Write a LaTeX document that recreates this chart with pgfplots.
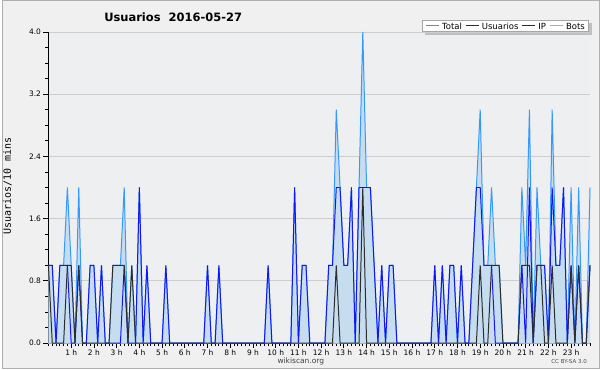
\documentclass[border=0pt]{standalone}
\usepackage{pgfplots}
\pgfplotsset{compat=1.18}
\usepackage{pgfplotstable}
\usepackage{fontspec}
\setmainfont{DejaVu Sans}
\newfontfamily\monofont{DejaVu Sans Mono}
\definecolor{bgcol}{RGB}{240,240,240}
\definecolor{plotbg}{RGB}{238,239,241}
\definecolor{bordercol}{RGB}{175,175,175}
\definecolor{gridcol}{RGB}{205,205,205}
\definecolor{totline}{RGB}{51,153,255}
\definecolor{totfill}{RGB}{198,221,240}
\definecolor{usucol}{RGB}{20,20,250}
\definecolor{ipcol}{RGB}{45,45,45}
\definecolor{botcol}{RGB}{255,165,0}
\pgfdeclarelayer{bgzero}
\pgfdeclarelayer{shadow}
\pgfsetlayers{bgzero,shadow,main}
\newcommand{\legline}[1]{{\color{#1}\rule[0.3em]{13pt}{1.3pt}}\hspace{3pt}}

\pgfplotstableread{
i T U P B
0 1 1 1 0
1 1 1 0 0
2 0 0 0 0
3 1 1 0 0
4 1 1 0 0
5 2 1 1 0
6 1 0 1 0
7 0 0 0 0
8 2 1 1 0
9 0 0 0 0
10 0 0 0 0
11 1 1 0 0
12 1 1 0 0
13 0 0 0 0
14 1 1 0 0
15 0 0 0 0
16 0 0 0 0
17 1 0 1 0
18 1 0 1 0
19 1 0 1 0
20 2 1 1 0
21 0 0 0 0
22 1 0 1 0
23 0 0 0 0
24 2 2 0 0
25 0 0 0 0
26 1 1 0 0
27 0 0 0 0
28 0 0 0 0
29 0 0 0 0
30 0 0 0 0
31 1 1 0 0
32 0 0 0 0
33 0 0 0 0
34 0 0 0 0
35 0 0 0 0
36 0 0 0 0
37 0 0 0 0
38 0 0 0 0
39 0 0 0 0
40 0 0 0 0
41 0 0 0 0
42 1 1 0 0
43 0 0 0 0
44 0 0 0 0
45 1 1 0 0
46 0 0 0 0
47 0 0 0 0
48 0 0 0 0
49 0 0 0 0
50 0 0 0 0
51 0 0 0 0
52 0 0 0 0
53 0 0 0 0
54 0 0 0 0
55 0 0 0 0
56 0 0 0 0
57 0 0 0 0
58 1 1 0 0
59 0 0 0 0
60 0 0 0 0
61 0 0 0 0
62 0 0 0 0
63 0 0 0 0
64 0 0 0 0
65 2 2 0 0
66 0 0 0 0
67 1 1 0 0
68 1 1 0 0
69 0 0 0 0
70 0 0 0 0
71 0 0 0 0
72 0 0 0 0
73 0 0 0 0
74 1 1 0 0
75 1 1 0 0
76 3 2 1 0
77 2 2 0 0
78 1 1 0 0
79 1 1 0 0
80 2 2 0 0
81 0 0 0 0
82 2 2 0 0
83 4 2 2 0
84 2 2 0 0
85 2 2 0 0
86 1 1 0 0
87 0 0 0 0
88 1 1 0 0
89 0 0 0 0
90 1 1 0 0
91 1 1 0 0
92 0 0 0 0
93 0 0 0 0
94 0 0 0 0
95 0 0 0 0
96 0 0 0 0
97 0 0 0 0
98 0 0 0 0
99 0 0 0 0
100 0 0 0 0
101 0 0 0 0
102 1 1 0 0
103 0 0 0 0
104 1 1 0 0
105 0 0 0 0
106 1 1 0 0
107 1 1 0 0
108 0 0 0 0
109 1 1 0 0
110 0 0 0 0
111 0 0 0 0
112 1 1 0 0
113 2 2 0 0
114 3 2 1 0
115 1 1 0 0
116 1 1 0 0
117 2 1 1 0
118 1 0 1 0
119 1 0 1 0
120 0 0 0 0
121 0 0 0 0
122 0 0 0 0
123 0 0 0 0
124 0 0 0 0
125 2 1 1 0
126 1 0 1 0
127 3 2 1 0
128 0 0 0 0
129 2 1 1 0
130 1 1 1 0
131 1 1 0 0
132 0 0 0 0
133 3 2 1 0
134 1 1 0 0
135 1 1 0 0
136 2 2 0 0
137 0 0 0 0
138 2 1 1 0
139 0 0 0 0
140 2 1 1 0
141 0 0 0 0
142 0 0 0 0
143 2 1 1 0
}\datatable

\begin{document}
\begin{tikzpicture}[x=1pt,y=1pt]
\begin{pgfonlayer}{bgzero}
\fill[bgcol] (0,0) rectangle (600,370);
\fill[plotbg] (47,26) rectangle (590,338);
\draw[bordercol,line width=1pt] (0.5,0.5) rectangle (599.5,369.5);
\end{pgfonlayer}
\node[font=\bfseries\fontsize{11.5}{13}\selectfont] at (172,353) {Usuarios\ \ 2016-05-27};
\node[rotate=90,font=\monofont\fontsize{10}{11}\selectfont] at (6,183.5) {Usuarios/10 mins};
\node[font=\fontsize{7.5}{9}\selectfont,text=black!75] at (300,8) {wikiscan.org};
\node[font=\fontsize{5.5}{7}\selectfont,text=black!70] at (569,8) {CC BY-SA 3.0};
\begin{axis}[
  at={(47pt,26pt)}, anchor=south west,
  scale only axis, width=543pt, height=312pt,
  xmin=0, xmax=143, ymin=0, ymax=4,
  axis lines*=left, axis line style={-,black,line width=1pt},
  tick align=outside,
  xtick={6,12,...,138},
  xticklabels={1 h,2 h,3 h,4 h,5 h,6 h,7 h,8 h,9 h,10 h,11 h,12 h,13 h,14 h,15 h,16 h,17 h,18 h,19 h,20 h,21 h,22 h,23 h},
  minor xtick={0,...,143},
  ytick={0,0.8,1.6,2.4,3.2,4.0},
  minor ytick={0.2,0.4,0.6,1.0,1.2,1.4,1.8,2.0,2.2,2.6,2.8,3.0,3.4,3.6,3.8},
  major tick length=5pt, minor tick length=3pt,
  tick style={black,line width=0.8pt},
  ymajorgrids, major grid style={gridcol,line width=0.8pt},
  y tick label style={/pgf/number format/fixed,/pgf/number format/fixed zerofill,/pgf/number format/precision=1,xshift=1pt},
  /pgf/number format/assume math mode=true,
  ticklabel style={font=\fontsize{7.5}{9}\selectfont},
  x tick label style={yshift=2pt},
  clip=false,
]
\addplot[fill=totfill,draw=none,forget plot] table[x=i,y=T] {\datatable} \closedcycle;
\addplot[botcol,line width=1pt,forget plot] table[x=i,y=B] {\datatable};
\addplot[totline,line width=1pt,forget plot] table[x=i,y=T] {\datatable};
\addplot[usucol,line width=1pt,forget plot] table[x=i,y=U] {\datatable};
\addplot[ipcol,line width=1pt,forget plot] table[x=i,y=P] {\datatable};
\end{axis}
\node[name=leg,anchor=south east,fill=white,draw=black!35,line width=0.6pt,
  inner xsep=4pt,inner ysep=2.5pt,font=\fontsize{8.5}{9}\selectfont] at (589,338)
  {\legline{totline}Total\hspace{4pt}\legline{usucol}Usuarios\hspace{4pt}\legline{ipcol}IP\hspace{4pt}\legline{botcol}Bots};
\begin{pgfonlayer}{shadow}
\fill[black!25] ([shift={(3pt,-3pt)}]leg.south west) rectangle ([shift={(3pt,-3pt)}]leg.north east);
\end{pgfonlayer}
\end{tikzpicture}
\end{document}
